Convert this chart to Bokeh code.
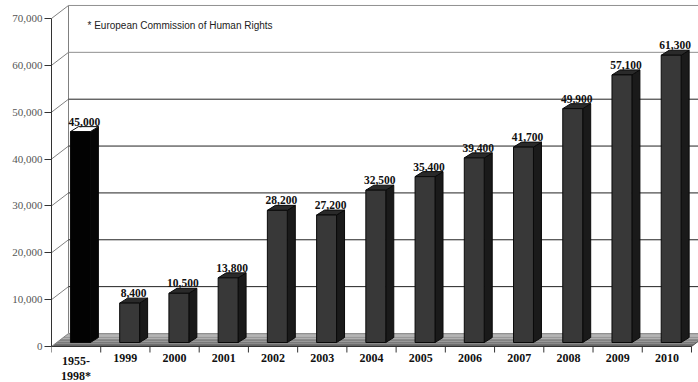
from bokeh.plotting import figure
from bokeh.models import Range1d, FixedTicker, NumeralTickFormatter
from bokeh.core.properties import value
from bokeh.embed import file_html
from bokeh.resources import INLINE

# ---------------- data ----------------
categories = ["1955-\n1998*", "1999", "2000", "2001", "2002", "2003", "2004",
              "2005", "2006", "2007", "2008", "2009", "2010"]
applications = [45000, 8400, 10500, 13800, 28200, 27200, 32500,
                35400, 39400, 41700, 49900, 57100, 61300]
y_ticks = [0, 10000, 20000, 30000, 40000, 50000, 60000, 70000]
note = "* European Commission of Human Rights"

# ---------------- geometry (pixel -> data conversions) ----------------
CAT_PX = 49.23            # pixels per category
Y_PX = 46.86              # pixels per 10,000
PX = 1.0 / CAT_PX         # category units per pixel
PY = 10000.0 / Y_PX       # value units per pixel

W, H = 698, 382
LEFT = 51
ZERO_Y = 346
n = len(categories)

x_end = (W - LEFT) * PX
y_top = ZERO_Y * PY
y_bot = -(H - ZERO_Y) * PY

WDX, WDY = 17 * PX, 13 * PY        # wall depth
FL, FR = 0.385, 0.79               # bar front face extents within category
BDX, BDY = 8 * PX, 5 * PY          # bar depth
B0 = 4 * PY                        # bar base lift

SERIF = "Liberation Serif"

p = figure(width=W, height=H, output_backend="svg", toolbar_location=None,
           x_range=Range1d(0, x_end), y_range=Range1d(y_bot, y_top),
           min_border_left=LEFT, min_border_right=0, min_border_top=0,
           min_border_bottom=0, background_fill_color="white",
           border_fill_color="white")
p.outline_line_color = None
p.grid.visible = False
p.xaxis.visible = False

ax = p.yaxis[0]
ax.ticker = FixedTicker(ticks=y_ticks, minor_ticks=[])
ax.formatter = NumeralTickFormatter(format="0,0")
ax.bounds = (0, max(y_ticks))
ax.major_tick_out = 7
ax.major_tick_in = 0
ax.minor_tick_out = 0
ax.minor_tick_in = 0
ax.axis_line_color = "#333333"
ax.major_tick_line_color = "#333333"
ax.major_label_text_font = SERIF
ax.major_label_text_font_size = "11px"
ax.major_label_text_color = "#555555"
ax.major_label_standoff = 2

# ---------------- floor (gradient stripes) ----------------
ns = 8
fxs, fys, fcol = [], [], []
c0, c1 = (0x60, 0x60, 0x60), (0xb0, 0xb0, 0xb0)
for k in range(ns):
    t0, t1 = k / ns, (k + 1) / ns
    fxs.append([t0 * WDX, n + t0 * WDX, n + t1 * WDX, t1 * WDX])
    fys.append([t0 * WDY, t0 * WDY, t1 * WDY, t1 * WDY])
    tm = (k + 0.5) / ns
    c = tuple(int(a + (b - a) * tm) for a, b in zip(c0, c1))
    fcol.append("#%02x%02x%02x" % c)
p.patches(fxs, fys, fill_color=fcol, line_color=None)

# ---------------- walls ----------------
p.segment(x0=[0] * len(y_ticks), y0=y_ticks,
          x1=[WDX] * len(y_ticks), y1=[v + WDY for v in y_ticks],
          line_color="#808080", line_width=1)
p.segment(x0=[WDX], y0=[WDY], x1=[WDX], y1=[max(y_ticks) + WDY],
          line_color="#808080", line_width=1)
grid_cols = ["#909090" if (v >= 60000 or v == 0) else "#222222" for v in y_ticks]
p.segment(x0=[WDX] * len(y_ticks), y0=[v + WDY for v in y_ticks],
          x1=[x_end] * len(y_ticks), y1=[v + WDY for v in y_ticks],
          line_color=grid_cols, line_width=1)

# x axis line, right floor edge and ticks
p.segment(x0=[0], y0=[0], x1=[n], y1=[0], line_color="#333333", line_width=1)
p.segment(x0=[n], y0=[0], x1=[n + WDX], y1=[WDY], line_color="#555555", line_width=1)
p.segment(x0=list(range(n + 1)), y0=[0] * (n + 1),
          x1=list(range(n + 1)), y1=[-6 * PY] * (n + 1),
          line_color="#333333", line_width=1)

# ---------------- bars ----------------
front_x, front_y, side_x, side_y, top_x, top_y = [], [], [], [], [], []
front_c, side_c, top_c = [], [], []
for i, v in enumerate(applications):
    xl, xr = i + FL, i + FR
    yb, yt = B0, B0 + v
    front_x.append([xl, xr, xr, xl]); front_y.append([yb, yb, yt, yt])
    side_x.append([xr, xr + BDX, xr + BDX, xr]); side_y.append([yb, yb + BDY, yt + BDY, yt])
    top_x.append([xl, xr, xr + BDX, xl + BDX]); top_y.append([yt, yt, yt + BDY, yt + BDY])
    if i == 0:
        front_c.append("#020202"); side_c.append("#060606"); top_c.append("#ffffff")
    else:
        front_c.append("#383838"); side_c.append("#1a1a1a"); top_c.append("#2a2a2a")

p.patches(side_x, side_y, fill_color=side_c, line_color="#0a0a0a", line_width=1)
p.patches(top_x, top_y, fill_color=top_c, line_color="#0a0a0a", line_width=1)
p.patches(front_x, front_y, fill_color=front_c, line_color="#0a0a0a", line_width=1)

# value labels
p.text(x=[i + (FL + FR + BDX) / 2 for i in range(n)],
       y=[B0 + v + BDY + 5 * PY for v in applications],
       text=[f"{v:,}" for v in applications],
       text_align="center", text_baseline="alphabetic",
       text_font=value(SERIF), text_font_style="bold",
       text_font_size="11.5px", text_color="#111111")

# category labels
p.text(x=[i + 0.5 for i in range(n)], y=[-7.5 * PY] * n, text=categories,
       text_align="center", text_baseline="top",
       text_font=value(SERIF), text_font_style="bold",
       text_font_size="12px", text_color="#111111", text_line_height=1.05)

# note
p.text(x=[36 * PX], y=[(ZERO_Y - 25) * PY], text=[note],
       text_align="left", text_baseline="middle",
       text_font=value("Liberation Sans"), text_font_size="10px",
       text_color="#222222")

open("out.html", "w").write(file_html(p, INLINE))
